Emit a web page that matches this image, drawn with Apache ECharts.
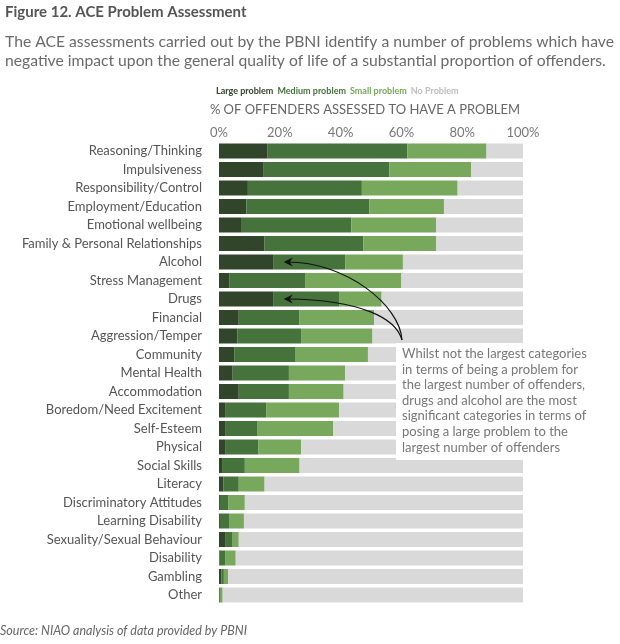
<!DOCTYPE html>
<html>
<head>
<meta charset="utf-8">
<script src="https://cdn.jsdelivr.net/npm/echarts@6/dist/echarts.min.js"></script>
<style>
  html, body { margin: 0; padding: 0; background: #fff; }
  #chart { width: 620px; height: 644px; }
</style>
</head>
<body>
<div id="chart"></div>
<script>
// categories top to bottom
const categories = [
  'Reasoning/Thinking', 'Impulsiveness', 'Responsibility/Control', 'Employment/Education',
  'Emotional wellbeing', 'Family & Personal Relationships', 'Alcohol', 'Stress Management',
  'Drugs', 'Financial', 'Aggression/Temper', 'Community', 'Mental Health', 'Accommodation',
  'Boredom/Need Excitement', 'Self-Esteem', 'Physical', 'Social Skills', 'Literacy',
  'Discriminatory Attitudes', 'Learning Disability', 'Sexuality/Sexual Behaviour',
  'Disability', 'Gambling', 'Other'
];
// % of offenders, per problem level
const largeProblem  = [16, 14.5, 9.5, 9, 7.5, 15, 18, 3.5, 18, 6.5, 6, 5, 4.5, 6.5, 2, 2, 2, 1, 1.5, 0.3, 0.3, 2, 0.2, 0.8, 0];
const mediumProblem = [46, 41.5, 37.5, 40.5, 36, 32.5, 23.5, 25, 21.5, 20, 21, 20, 18.5, 16.5, 13.5, 10.5, 11, 7.5, 5, 2.7, 3, 2.5, 1.8, 0.8, 0.3];
const smallProblem  = [26, 27, 31.5, 24.5, 28, 24, 19, 31.5, 14, 24.5, 23.5, 24, 18.5, 18, 24, 25, 14, 18, 8.5, 5.5, 4.9, 2, 3.5, 1.4, 0.9];
const noProblem     = [12, 17, 21.5, 26, 28.5, 28.5, 39.5, 40, 46.5, 49, 49.5, 51, 58.5, 59, 60.5, 62.5, 73, 73.5, 85, 91.5, 91.8, 93.5, 94.5, 97, 98.8];
const xTicks = [0, 20, 40, 60, 80, 100];

const seriesNames = ['Large problem', 'Medium problem', 'Small problem', 'No Problem'];
const colors = ['#30452a', '#46733b', '#77a85b', '#d9d9d9'];
const legendColors = ['#30452a', '#46733b', '#77a85b', '#bdbdbd'];
const values = [largeProblem, mediumProblem, smallProblem, noProblem];

const FONT = 'Lato';
const chart = echarts.init(document.getElementById('chart'));

const option = {
  animation: false,
  textStyle: { fontFamily: FONT },
  title: [
    {
      text: 'Figure 12. ACE Problem Assessment',
      left: 0, top: 0,
      textStyle: { fontFamily: FONT, fontSize: 15, fontWeight: 'bold', color: '#555' }
    },
    {
      text: 'The ACE assessments carried out by the PBNI identify a number of problems which have\nnegative impact upon the general quality of life of a substantial proportion of offenders.',
      left: 0, top: 27,
      textStyle: { fontFamily: FONT, fontSize: 15.7, fontWeight: 'normal', color: '#6a6a6a', lineHeight: 19 }
    }
  ],
  legend: {
    left: 211, top: 82,
    icon: 'rect', itemWidth: 0, itemHeight: 0, itemGap: 4,
    selectedMode: false,
    data: seriesNames.map((n, i) => ({
      name: n,
      textStyle: { color: legendColors[i], fontWeight: 'bold', fontSize: 9, fontFamily: FONT, padding: [0, 0, 0, -5] }
    }))
  },
  grid: { left: 219, right: 97, top: 141.75, bottom: 39.75, containLabel: false },
  xAxis: {
    type: 'value', position: 'top',
    min: xTicks[0], max: xTicks[xTicks.length - 1], interval: 20,
    name: '% OF OFFENDERS ASSESSED TO HAVE A PROBLEM',
    nameLocation: 'middle', nameGap: 25,
    nameTextStyle: { fontFamily: FONT, fontSize: 13, color: '#666', padding: [0, 12, 0, 0] },
    axisLine: { show: false }, axisTick: { show: false }, splitLine: { show: false },
    axisLabel: { formatter: '{value}%', fontSize: 13, color: '#777', margin: 2, fontFamily: FONT }
  },
  yAxis: {
    type: 'category', inverse: true, data: categories,
    axisLine: { show: false }, axisTick: { show: false },
    axisLabel: { fontSize: 13, color: '#555', margin: 17, fontFamily: FONT }
  },
  series: seriesNames.map((n, i) => ({
    name: n, type: 'bar', stack: 'total', barWidth: 15,
    itemStyle: { color: colors[i] },
    emphasis: { disabled: true },
    data: values[i]
  }))
};
chart.setOption(option);

// annotation: text box and curved arrows to drugs / alcohol
const start = [402, 340];
function arrowTo(cat, val, c1, c2) {
  const p = chart.convertToPixel({ gridIndex: 0 }, [val, cat]);
  const tip = [p[0] + 10, p[1]];
  return [
    {
      type: 'bezierCurve', z: 100,
      shape: {
        x1: start[0], y1: start[1], x2: tip[0] + 4, y2: tip[1],
        cpx1: start[0] + c1[0], cpy1: start[1] + c1[1],
        cpx2: tip[0] + c2[0], cpy2: tip[1] + c2[1]
      },
      style: { stroke: '#111', lineWidth: 1.2, fill: null }
    },
    {
      type: 'polygon', z: 101,
      shape: { points: [tip, [tip[0] + 9, tip[1] - 4.5], [tip[0] + 6, tip[1]], [tip[0] + 9, tip[1] + 4.5]] },
      style: { fill: '#111' }
    }
  ];
}
chart.setOption({
  graphic: [
    {
      type: 'rect', z: 90,
      shape: { x: 396, y: 343, width: 224, height: 117 },
      style: { fill: '#fff' }
    },
    {
      type: 'text', z: 91, left: 402, top: 346,
      style: {
        text: 'Whilst not the largest categories\nin terms of being a problem for\nthe largest number of offenders,\ndrugs and alcohol are the most\nsignificant categories in terms of\nposing a large problem to the\nlargest number of offenders',
        font: '13px ' + FONT, fill: '#777', lineHeight: 15.6
      }
    },
    ...arrowTo('Alcohol', largeProblem[6], [-2, -35], [62, 0]),
    ...arrowTo('Drugs', largeProblem[8], [-6, -22], [77, 1]),
    {
      type: 'text', left: 0, top: 624,
      style: { text: 'Source: NIAO analysis of data provided by PBNI', font: 'italic 12.5px ' + FONT, fill: '#666' }
    }
  ]
});
</script>
</body>
</html>
